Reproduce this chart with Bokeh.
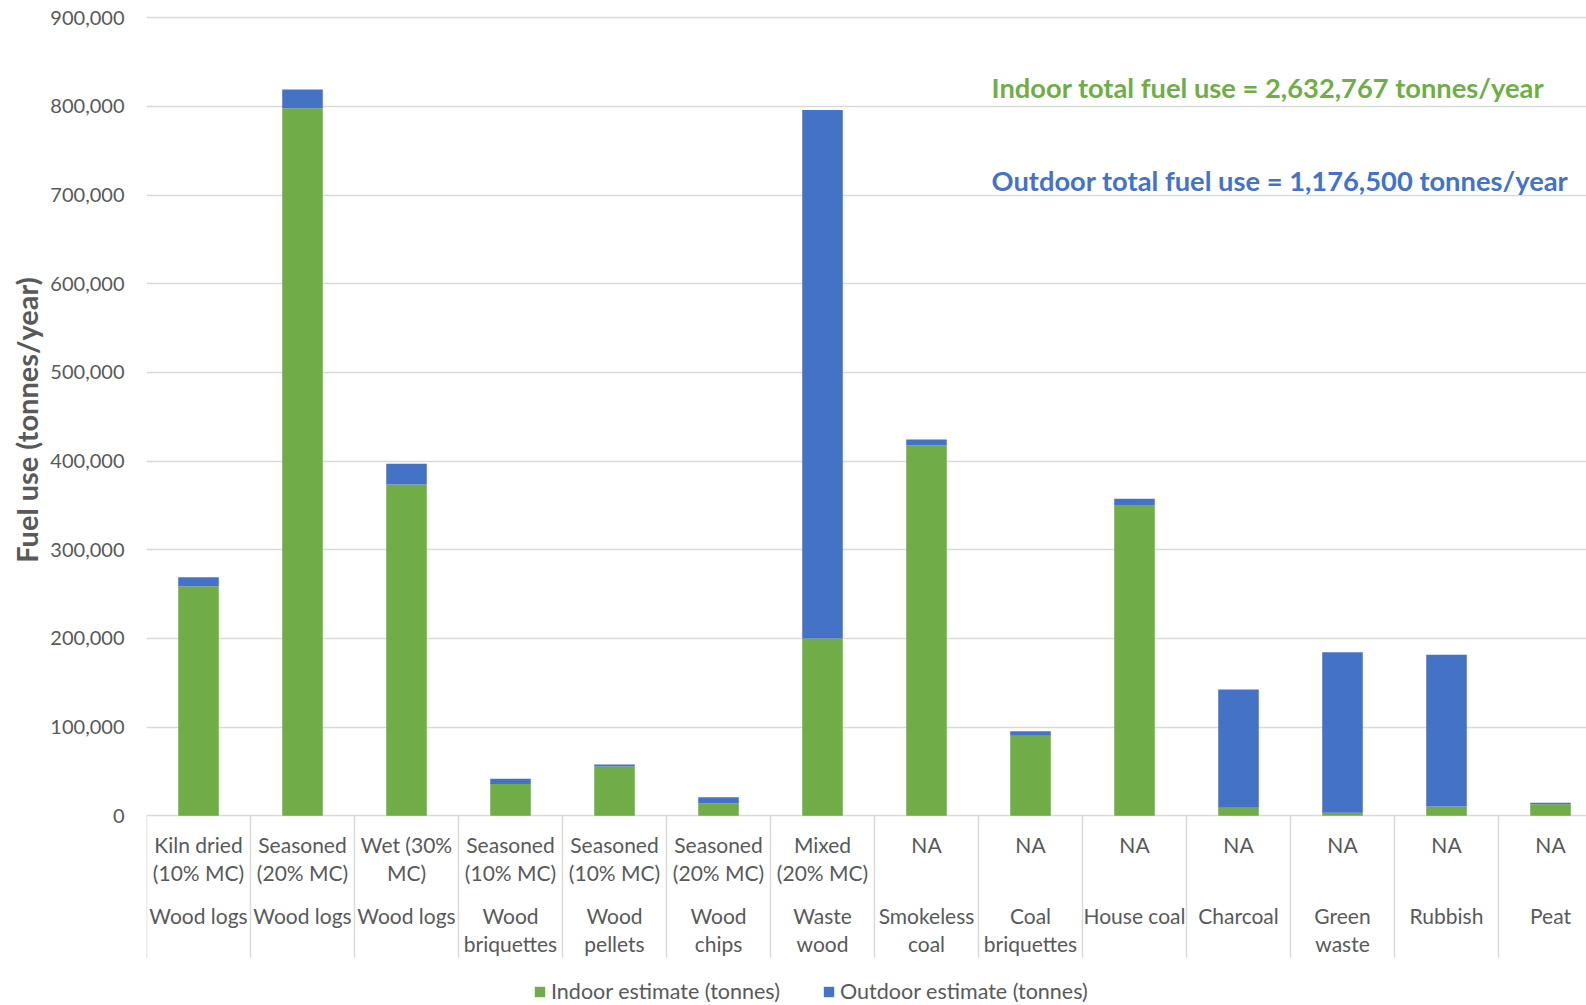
import math

from bokeh.core.properties import value
from bokeh.embed import file_html
from bokeh.models import (ColumnDataSource, FixedTicker, Legend, LegendItem,
                          NumeralTickFormatter, Range1d)
from bokeh.plotting import figure
from bokeh.resources import INLINE

# ---- data -----------------------------------------------------------------
conditions = ["Kiln dried\n(10% MC)", "Seasoned\n(20% MC)", "Wet (30%\nMC)",
              "Seasoned\n(10% MC)", "Seasoned\n(10% MC)", "Seasoned\n(20% MC)",
              "Mixed\n(20% MC)", "NA", "NA", "NA", "NA", "NA", "NA", "NA"]
fuels = ["Wood logs", "Wood logs", "Wood logs", "Wood\nbriquettes",
         "Wood\npellets", "Wood\nchips", "Waste\nwood", "Smokeless\ncoal",
         "Coal\nbriquettes", "House coal", "Charcoal", "Green\nwaste",
         "Rubbish", "Peat"]
indoor = [259000, 798000, 373500, 36000, 55600, 14200, 200000, 418000,
          90200, 350500, 9000, 3400, 10500, 13000]
outdoor = [10000, 21000, 23500, 5700, 2300, 6800, 596000, 6400,
           5200, 7000, 133500, 181000, 171000, 1700]
series_names = ["Indoor estimate (tonnes)", "Outdoor estimate (tonnes)"]
y_ticks = [0, 100000, 200000, 300000, 400000, 500000, 600000, 700000,
           800000, 900000]
y_title = "Fuel  use (tonnes/year)"
total_notes = ["Indoor total fuel use = 2,632,767 tonnes/year",
               "Outdoor total fuel use = 1,176,500 tonnes/year"]

# ---- styling / layout -----------------------------------------------------
GREEN = "#70AD47"
BLUE = "#4472C4"
TEXT = "#595959"
GRID = "#d9d9d9"
FONT = "Lato"

W, H = 1586, 1005
LEFT = 146          # left edge of the plotting area
CAT_PX = 104.0      # width of one category slot
ZERO_PX = 815.3     # screen row of the value 0
PX_PER_100K = 88.67
UPP = 100000 / PX_PER_100K   # data units per screen pixel (vertical)


def xpx(px):
    return (px - LEFT) / CAT_PX


def ypx(py):
    return (ZERO_PX - py) * UPP


p = figure(width=W, height=H,
           x_range=Range1d(0, (W - LEFT) / CAT_PX),
           y_range=Range1d(-(H - ZERO_PX) * UPP, ZERO_PX * UPP),
           output_backend="svg", toolbar_location=None,
           x_axis_location=None,
           min_border_left=LEFT, min_border_right=0,
           min_border_top=0, min_border_bottom=0)
p.outline_line_color = None
p.background_fill_color = "white"
p.border_fill_color = "white"

# y axis: labels only
yax = p.yaxis[0]
yax.ticker = FixedTicker(ticks=y_ticks)
yax.formatter = NumeralTickFormatter(format="0,0")
yax.axis_line_color = None
yax.major_tick_line_color = None
yax.minor_tick_line_color = None
yax.major_tick_out = 0
yax.major_tick_in = 0
yax.major_label_standoff = 22
yax.major_label_text_font = FONT
yax.major_label_text_font_size = "20px"
yax.major_label_text_color = TEXT

p.xgrid.visible = False
p.ygrid.ticker = FixedTicker(ticks=y_ticks)
p.ygrid.grid_line_color = GRID
p.ygrid.grid_line_width = 1.5

# stacked bars
n = len(fuels)
src = ColumnDataSource(dict(x=[i + 0.5 for i in range(n)],
                            indoor=indoor, outdoor=outdoor))
bars = p.vbar_stack(["indoor", "outdoor"], x="x", width=0.39,
                    color=[GREEN, BLUE], line_color=None, source=src)

# category separators below the baseline
p.segment(x0=list(range(n)), y0=[0] * n, x1=list(range(n)),
          y1=[ypx(957)] * n, line_color=GRID, line_width=1.5)


def label_rows(labels, rows_px):
    for k, row_py in enumerate(rows_px):
        texts = [(lab.split("\n") + ["", ""])[k] for lab in labels]
        p.text(x=[i + 0.5 for i in range(n)], y=[ypx(row_py)] * n,
               text=texts, text_align="center", text_baseline="middle",
               text_font=value(FONT), text_font_size="21px",
               text_color=TEXT)


label_rows(conditions, [843.5, 871.5])
label_rows(fuels, [914.5, 942.5])

# vertical axis title
p.text(x=[xpx(26)], y=[ypx(416)], text=[y_title], angle=math.pi / 2,
       text_align="center", text_baseline="middle",
       text_font=value(FONT), text_font_size="29px", text_font_style="bold",
       text_color=TEXT, level="overlay")

# totals notes
for note, row_py, col in zip(total_notes, [87, 180], [GREEN, BLUE]):
    p.text(x=[xpx(991)], y=[ypx(row_py)], text=[note], text_align="left",
           text_baseline="middle", text_font=value(FONT),
           text_font_size="27.3px", text_font_style="bold", text_color=col)

# legend
legend = Legend(items=[LegendItem(label=series_names[0], renderers=[bars[0]]),
                       LegendItem(label=series_names[1], renderers=[bars[1]])],
                orientation="horizontal", location=(533 - LEFT, 1),
                glyph_width=13, glyph_height=13, label_standoff=5,
                label_width=271, label_height=24, spacing=0, padding=0,
                margin=0, border_line_color=None, background_fill_alpha=0,
                label_text_font=FONT, label_text_font_size="21.5px",
                label_text_color=TEXT)
p.add_layout(legend, "center")

open("out.html", "w").write(file_html(p, INLINE))
